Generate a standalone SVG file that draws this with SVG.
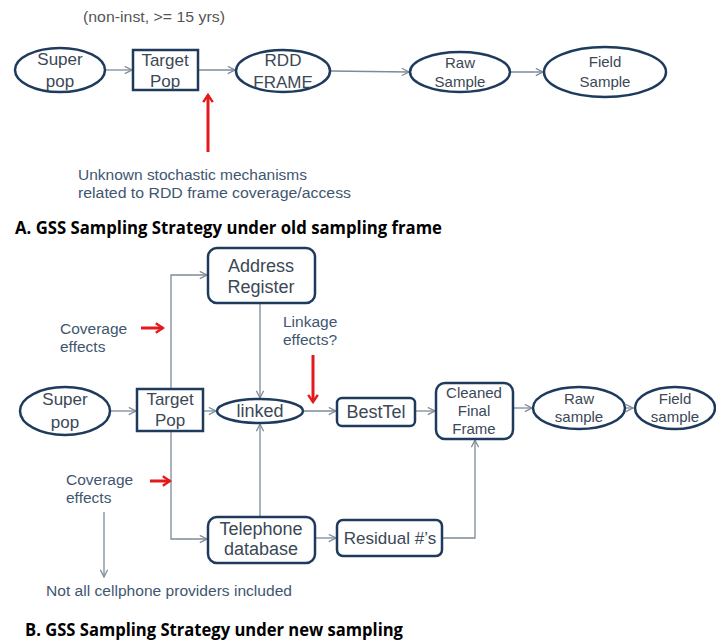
<svg xmlns="http://www.w3.org/2000/svg" width="716" height="642" viewBox="0 0 716 642">
<defs>
<marker id="ah" viewBox="0 0 10 10" refX="9" refY="5" markerWidth="9" markerHeight="9" markerUnits="userSpaceOnUse" orient="auto">
<polyline points="1,1 9,5 1,9" fill="none" stroke="#7d8b98" stroke-width="1.4"/>
</marker>
<marker id="rh" viewBox="0 0 10 10" refX="8" refY="5" markerWidth="12" markerHeight="12" markerUnits="userSpaceOnUse" orient="auto">
<polyline points="2,1 8,5 2,9" fill="none" stroke="#e3191c" stroke-width="2"/>
</marker>
</defs>
<style>
.n{fill:#fff;stroke:#1e3a5c;stroke-width:2.5}
.t{font-family:"Liberation Sans",Arial,sans-serif;font-size:17px;fill:#3b4856;text-anchor:middle}
.b{font-size:18px}
.s{font-size:15px}
.c{fill:none;stroke:#7d8b98;stroke-width:1.3}
.r{fill:none;stroke:#e3191c;stroke-width:3}
.a{font-family:"Liberation Sans",Arial,sans-serif;font-size:15.5px;fill:#3f5670}
.g{fill:#555}
.h{font-family:"Open Sans","Liberation Sans",sans-serif;font-weight:bold;font-size:17px;fill:#000}
</style>
<rect width="716" height="642" fill="#fff"/>

<g id="connectors">
<line class="c" x1="106" y1="70" x2="132" y2="70" marker-end="url(#ah)"/>
<line class="c" x1="198" y1="70" x2="235" y2="70" marker-end="url(#ah)"/>
<line class="c" x1="330" y1="71" x2="409" y2="72" marker-end="url(#ah)"/>
<line class="c" x1="510" y1="72" x2="543" y2="72" marker-end="url(#ah)"/>
<line class="c" x1="110" y1="411" x2="136" y2="411" marker-end="url(#ah)"/>
<line class="c" x1="203" y1="411" x2="216" y2="411" marker-end="url(#ah)"/>
<polyline class="c" points="171,389 171,275 207,275" marker-end="url(#ah)"/>
<polyline class="c" points="171,431 171,539 207,539" marker-end="url(#ah)"/>
<line class="c" x1="260" y1="303" x2="260" y2="398" marker-end="url(#ah)"/>
<line class="c" x1="260" y1="517" x2="260" y2="424" marker-end="url(#ah)"/>
<line class="c" x1="303" y1="411" x2="336" y2="411" marker-end="url(#ah)"/>
<line class="c" x1="415" y1="411" x2="435" y2="411" marker-end="url(#ah)"/>
<line class="c" x1="513" y1="408" x2="532" y2="408" marker-end="url(#ah)"/>
<line class="c" x1="625" y1="408" x2="633" y2="408" marker-end="url(#ah)"/>
<line class="c" x1="315" y1="538" x2="336" y2="538" marker-end="url(#ah)"/>
<polyline class="c" points="442,538 475,538 475,440" marker-end="url(#ah)"/>
<line class="c" x1="104" y1="512" x2="104" y2="577" marker-end="url(#ah)"/>
<line class="r" x1="208" y1="152" x2="208" y2="95" marker-end="url(#rh)"/>
<line class="r" x1="141" y1="328" x2="163" y2="328" marker-end="url(#rh)"/>
<line class="r" x1="150" y1="481" x2="170" y2="481" marker-end="url(#rh)"/>
<line class="r" x1="313" y1="355" x2="313" y2="402" marker-end="url(#rh)"/>
</g>

<text class="a g" x="83" y="22" textLength="142" lengthAdjust="spacingAndGlyphs">(non-inst, &gt;= 15 yrs)</text>

<g id="a_superpop"><ellipse class="n" cx="60" cy="70" rx="45" ry="22"/><text class="t" x="60" y="65">Super</text><text class="t" x="60" y="87">pop</text></g>
<g id="a_targetpop"><rect class="n" x="133" y="50" width="65" height="40"/><text class="t" x="165" y="66">Target</text><text class="t" x="165" y="87">Pop</text></g>
<g id="a_rdd"><ellipse class="n" cx="283" cy="71" rx="47" ry="21"/><text class="t" x="283" y="66">RDD</text><text class="t" x="283" y="88">FRAME</text></g>
<g id="a_raw"><ellipse class="n" cx="460" cy="72" rx="50" ry="20"/><text class="t s" x="460" y="68">Raw</text><text class="t s" x="460" y="87">Sample</text></g>
<g id="a_field"><ellipse class="n" cx="605" cy="72" rx="61" ry="25"/><text class="t s" x="605" y="67">Field</text><text class="t s" x="605" y="87">Sample</text></g>

<text class="a" x="78" y="180" textLength="229" lengthAdjust="spacingAndGlyphs">Unknown  stochastic mechanisms</text>
<text class="a" x="78" y="198" textLength="273" lengthAdjust="spacingAndGlyphs">related to RDD frame coverage/access</text>
<text class="h" x="15" y="234" textLength="427" lengthAdjust="spacingAndGlyphs">A. GSS Sampling Strategy under old sampling frame</text>

<g id="b_address"><rect class="n" x="208" y="248" width="107" height="55" rx="9"/><text class="t b" x="261" y="272">Address</text><text class="t b" x="261" y="293">Register</text></g>
<g id="b_superpop"><ellipse class="n" cx="65" cy="411" rx="45" ry="24"/><text class="t" x="65" y="405">Super</text><text class="t" x="65" y="428">pop</text></g>
<g id="b_targetpop"><rect class="n" x="137" y="389" width="66" height="42"/><text class="t" x="170" y="405">Target</text><text class="t" x="170" y="426">Pop</text></g>
<g id="b_linked"><ellipse class="n" cx="260" cy="411" rx="43" ry="12"/><text class="t b" x="260" y="417">linked</text></g>
<g id="b_besttel"><rect class="n" x="337" y="398" width="78" height="28" rx="5"/><text class="t b" x="376" y="418">BestTel</text></g>
<g id="b_cleaned"><rect class="n" x="436" y="383" width="77" height="56" rx="9"/><text class="t s" x="474" y="398">Cleaned</text><text class="t s" x="474" y="416">Final</text><text class="t s" x="474" y="434">Frame</text></g>
<g id="b_raw"><ellipse class="n" cx="579" cy="408" rx="46" ry="21"/><text class="t s" x="579" y="404">Raw</text><text class="t s" x="579" y="422">sample</text></g>
<g id="b_field"><ellipse class="n" cx="675" cy="408" rx="40" ry="21"/><text class="t s" x="675" y="404">Field</text><text class="t s" x="675" y="422">sample</text></g>
<g id="b_telephone"><rect class="n" x="208" y="517" width="107" height="46" rx="9"/><text class="t b" x="261" y="535">Telephone</text><text class="t b" x="261" y="555">database</text></g>
<g id="b_residual"><rect class="n" x="337" y="520" width="105" height="36" rx="6"/><text class="t" x="390" y="544">Residual #’s</text></g>

<text class="a" x="60" y="334">Coverage</text>
<text class="a" x="60" y="352">effects</text>
<text class="a" x="283" y="327">Linkage</text>
<text class="a" x="283" y="345">effects?</text>
<text class="a" x="66" y="485">Coverage</text>
<text class="a" x="66" y="503">effects</text>
<text class="a" x="46" y="596" textLength="246" lengthAdjust="spacingAndGlyphs">Not all cellphone providers included</text>
<text class="h" x="25" y="636" textLength="378" lengthAdjust="spacingAndGlyphs">B. GSS Sampling Strategy under new sampling</text>
</svg>
